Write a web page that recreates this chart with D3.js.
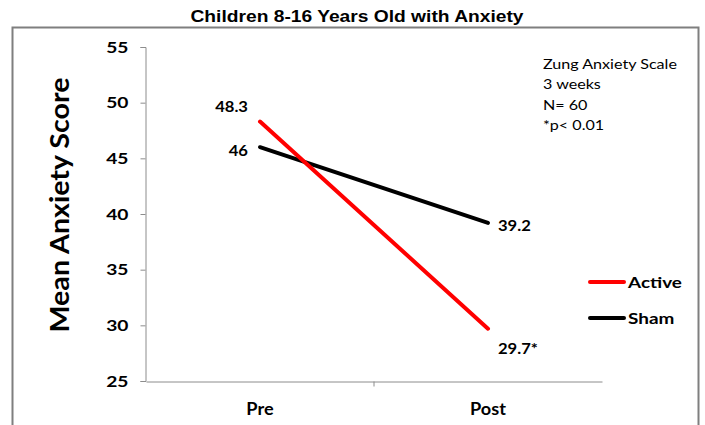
<!DOCTYPE html>
<html><head><meta charset="utf-8">
<script src="https://cdn.jsdelivr.net/npm/d3@7"></script>
<style>body{margin:0;background:#fff}svg{display:block}</style>
</head><body>
<svg id="c" width="705" height="425"></svg>
<script>
const categories = ["Pre", "Post"];
const activeValues = [48.3, 29.7];
const shamValues = [46, 39.2];
const activeLabels = ["48.3", "29.7*"];
const shamLabels = ["46", "39.2"];
const yTicks = [25, 30, 35, 40, 45, 50, 55];
const seriesNames = ["Active", "Sham"];
const notes = ["Zung Anxiety Scale", "3 weeks", "N= 60", "*p< 0.01"];

const svg = d3.select("#c");
const F = "Lato, 'Open Sans', sans-serif";
const x = d3.scaleBand().domain(categories).range([146, 602]);
const y = d3.scaleLinear().domain([25, 55]).range([381, 47]);

function stretch(sel, sx) {
  sel.each(function () {
    const w = this.getComputedTextLength();
    d3.select(this).attr("textLength", w * sx).attr("lengthAdjust", "spacingAndGlyphs");
  });
}

// outer border
svg.append("rect").attr("x", 12.5).attr("y", 27.5).attr("width", 686).attr("height", 420)
  .attr("fill", "none").attr("stroke", "#7f7f7f").attr("stroke-width", 2);

svg.append("text").attr("x", 357).attr("y", 22).attr("text-anchor", "middle")
  .attr("font-family", "Arial, 'Liberation Sans', sans-serif").attr("font-weight", "bold")
  .attr("font-size", 17).text("Children 8-16 Years Old with Anxiety")
  .call(s => stretch(s, 1.13));

// y axis
const ya = svg.append("g").attr("transform", "translate(145.5,0)")
  .call(d3.axisLeft(y).tickValues(yTicks).tickSize(5).tickPadding(12));
ya.select(".domain").attr("stroke", "#8c8c8c");
ya.selectAll(".tick line").attr("stroke", "#8c8c8c");
ya.selectAll("text").attr("font-family", F).attr("font-weight", "bold").attr("font-size", 16).attr("fill", "#000")
  .call(s => stretch(s, 1.2));

// x axis
const xa = svg.append("g").attr("transform", "translate(0,381.5)")
  .call(d3.axisBottom(x).tickSize(0).tickPadding(22));
xa.select(".domain").attr("stroke", "#8c8c8c");
xa.selectAll("text").attr("font-family", F).attr("font-weight", "bold").attr("font-size", 16.5).attr("fill", "#000")
  .call(s => stretch(s, 1.1));
xa.append("line").attr("x1", x("Post")).attr("x2", x("Post")).attr("y1", 0).attr("y2", 5).attr("stroke", "#8c8c8c");

svg.append("text").attr("transform", "translate(69,205) rotate(-90)").attr("text-anchor", "middle")
  .attr("font-family", F).attr("font-weight", "bold").attr("font-size", 27).text("Mean Anxiety Score")
  .call(s => stretch(s, 1.06));

const cx = c => x(c) + x.bandwidth() / 2;
const line = d3.line().x((d, i) => cx(categories[i])).y(d => y(d));
svg.append("path").datum(shamValues).attr("d", line).attr("fill", "none").attr("stroke", "#000").attr("stroke-width", 4).attr("stroke-linecap", "round");
svg.append("path").datum(activeValues).attr("d", line).attr("fill", "none").attr("stroke", "#ff0000").attr("stroke-width", 4).attr("stroke-linecap", "round");

const lab = (txt, xx, yy, anchor) => svg.append("text").attr("x", xx).attr("y", yy).attr("text-anchor", anchor)
  .attr("dominant-baseline", "central").attr("font-family", F).attr("font-weight", "bold").attr("font-size", 15.5).text(txt)
  .call(s => stretch(s, 1.07));
lab(activeLabels[0], cx("Pre") - 12, y(activeValues[0]) - 16, "end");
lab(shamLabels[0], cx("Pre") - 12, y(shamValues[0]) + 3, "end");
lab(shamLabels[1], cx("Post") + 10, y(shamValues[1]) + 2, "start");
lab(activeLabels[1], cx("Post") + 10, y(activeValues[1]) + 19, "start");

// notes
svg.append("g").selectAll("text").data(notes).join("text")
  .attr("x", 543).attr("y", (d, i) => 63 + i * 20.5).attr("dominant-baseline", "central")
  .attr("font-family", F).attr("font-size", 14).text(d => d)
  .call(s => stretch(s, 1.15));

// legend
const colors = ["#ff0000", "#000"];
const lg = svg.append("g").selectAll("g").data(seriesNames).join("g")
  .attr("transform", (d, i) => `translate(0,${282 + i * 36})`);
lg.append("line").attr("x1", 590).attr("x2", 624).attr("stroke", (d, i) => colors[i]).attr("stroke-width", 4).attr("stroke-linecap", "round");
lg.append("text").attr("x", 628).attr("dominant-baseline", "central").attr("font-family", F)
  .attr("font-weight", "bold").attr("font-size", 15.5).text(d => d)
  .call(s => stretch(s, 1.22));
</script>
</body></html>
